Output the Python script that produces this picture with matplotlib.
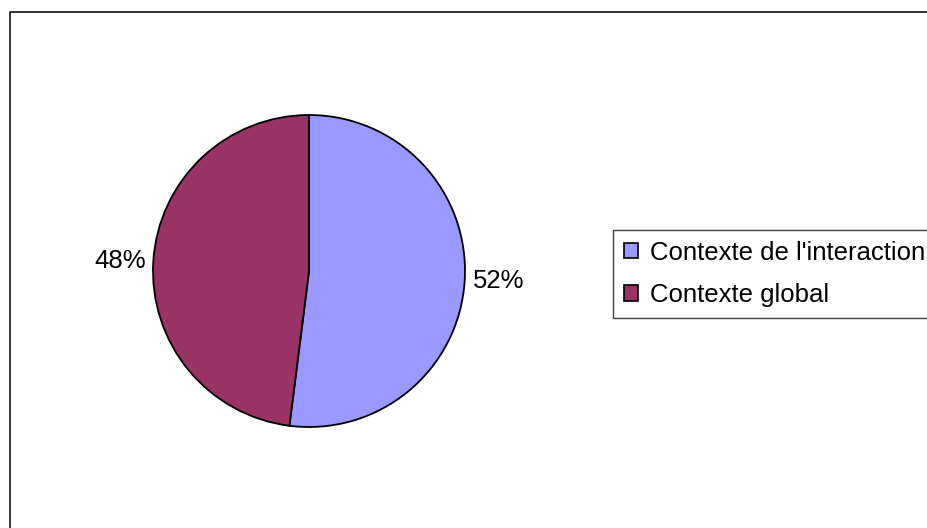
import matplotlib
matplotlib.use("Agg")
import matplotlib.pyplot as plt
from matplotlib.patches import Patch, Rectangle

plt.rcParams['font.family'] = ['Liberation Sans', 'DejaVu Sans']

categories = ["Contexte de l'interaction", "Contexte global"]
shares = [52, 48]
colors = ["#9999FF", "#993366"]

W, H = 928, 528
fig = plt.figure(figsize=(W / 100, H / 100), dpi=100)

# outer chart border (right and bottom run off the canvas)
fig.patches.append(Rectangle((10 / W, -0.05), 1.1, 1 - 12 / H + 0.05,
                             transform=fig.transFigure, fill=False,
                             edgecolor="#111111", linewidth=1.2))

# pie: centre (309, 271) px, radius 156 px
R = 156
cx, cy = 309, 271
ax = fig.add_axes([(cx - 1.25 * R) / W, (H - cy - 1.25 * R) / H,
                   2.5 * R / W, 2.5 * R / H])
ax.pie(shares, colors=colors, startangle=90, counterclock=False,
       labels=["%d%%" % s for s in shares], labeldistance=1.05,
       wedgeprops=dict(edgecolor="black", linewidth=1.3),
       textprops=dict(fontsize=18.5))
ax.set_xlim(-1.25, 1.25)
ax.set_ylim(-1.25, 1.25)
ax.set_aspect("equal")
ax.axis("off")

handles = [Patch(facecolor=c, edgecolor="black", linewidth=1.2) for c in colors]
leg = fig.legend(handles, categories, loc="upper left",
                 bbox_to_anchor=(613 / W, 1 - 230 / H), borderaxespad=0,
                 fontsize=18.5, frameon=True, fancybox=False, shadow=False,
                 borderpad=0.42, labelspacing=0.72, handlelength=0.55,
                 handleheight=0.55, handletextpad=0.47)
leg.get_frame().set_edgecolor("#111111")
leg.get_frame().set_linewidth(1.0)

fig.savefig("out.png", dpi=100)
